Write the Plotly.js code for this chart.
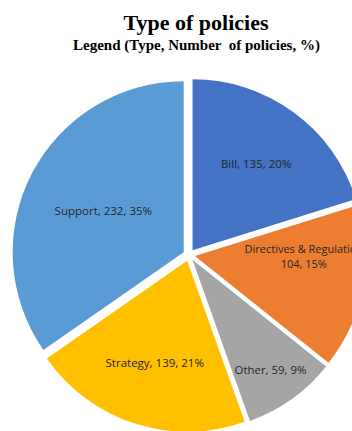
<!DOCTYPE html>
<html>
<head>
<meta charset="utf-8">
<script src="https://cdn.plot.ly/plotly-3.0.1.min.js"></script>
<style>
  html, body { margin: 0; padding: 0; background: #ffffff; overflow: hidden; }
  #chart { width: 392px; height: 440px; }
</style>
</head>
<body>
<div id="chart"></div>
<script>
const categories = ["Bill", "Directives & Regulation", "Other", "Strategy", "Support"];
const policyCounts = [135, 104, 59, 139, 232];
const percentLabels = [20, 15, 9, 21, 35];
const sliceColors = ["#4472C4", "#ED7D31", "#A5A5A5", "#FFC000", "#5B9BD5"];
const chartTitle = "Type of policies";
const chartSubtitle = "Legend (Type, Number  of policies, %)";

const templates = categories.map(function (c) {
  return c === "Directives & Regulation"
    ? "%{label}<br>%{value}, %{text}%"
    : "%{label}, %{value}, %{text}%";
});

const serif = "Liberation Serif";

const trace = {
  type: "pie",
  labels: categories,
  values: policyCounts,
  text: percentLabels,
  texttemplate: templates,
  textinfo: "text",
  textposition: "inside",
  insidetextorientation: "horizontal",
  sort: false,
  direction: "clockwise",
  rotation: 0,
  pull: 0.035,
  marker: { colors: sliceColors, line: { width: 0 } },
  textfont: { family: "Open Sans", size: 11.5, color: "#262626" },
  hoverinfo: "none",
  showlegend: false
};

const layout = {
  width: 392,
  height: 440,
  margin: { l: 12, r: 26, t: 78, b: 8 },
  paper_bgcolor: "#ffffff",
  plot_bgcolor: "#ffffff",
  showlegend: false,
  uniformtext: { mode: false },
  title: {
    text: "<b>" + chartTitle + "</b>",
    font: { family: serif, size: 22, color: "#000000" },
    x: 0.5,
    xanchor: "center",
    xref: "container",
    yref: "container",
    y: 1 - 22 / 440,
    yanchor: "middle"
  },
  annotations: [{
    text: "<b>" + chartSubtitle + "</b>",
    font: { family: serif, size: 15, color: "#000000" },
    xref: "paper", yref: "paper",
    x: (196 - 12) / 354, y: (432 - 46) / 354,
    xanchor: "center", yanchor: "middle",
    showarrow: false
  }]
};

Plotly.newPlot("chart", [trace], layout, { displayModeBar: false, staticPlot: true });
</script>
</body>
</html>
